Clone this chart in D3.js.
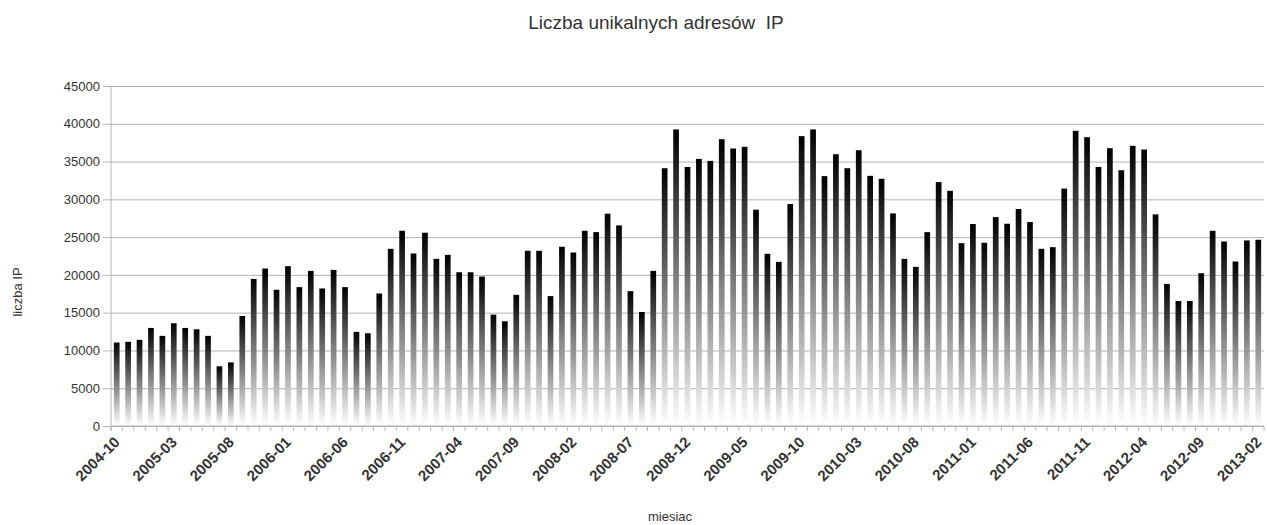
<!DOCTYPE html>
<html>
<head>
<meta charset="utf-8">
<script src="https://cdn.jsdelivr.net/npm/d3@7"></script>
<style>
  html, body { margin: 0; padding: 0; background: #fff; }
  text { font-family: "Liberation Sans", Arial, sans-serif; fill: #333; }
</style>
</head>
<body>
<svg id="chart" width="1267" height="525"></svg>
<script>
const title = "Liczba unikalnych adresów  IP";
const xTitle = "miesiac";
const yTitle = "liczba IP";

// monthly categories 2004-10 .. 2013-02
const fmt = d3.timeFormat("%Y-%m");
const months = d3.timeMonth.range(new Date(2004, 9, 1), new Date(2013, 2, 1)).map(fmt);

const visits = [
  11050, 11140, 11400, 12980, 11930, 13600, 12980, 12800, 11930, 7900,
  8420, 14560, 19470, 20840, 18030, 21150, 18380, 20530, 18200, 20660,
  18380, 12460, 12280, 17540, 23450, 25840, 22830, 25580, 22120, 22650,
  20350, 20350, 19780, 14740, 13860, 17370, 23190, 23190, 17190, 23720,
  22960, 25840, 25660, 28100, 26550, 17850, 15090, 20530, 34120, 39250,
  34290, 35350, 35090, 37960, 36730, 36950, 28630, 22790, 21730, 29380,
  38360, 39250, 33070, 35970, 34120, 36500, 33110, 32720, 28140, 22120,
  21060, 25660, 32280, 31130, 24200, 26730, 24250, 27650, 26770, 28720,
  26990, 23450, 23670, 31420, 39070, 38230, 34290, 36770, 33850, 37080,
  36590, 28010, 18810, 16550, 16550, 20220, 25840, 24420, 21770, 24560,
  24650
];

const yTicks = [0, 5000, 10000, 15000, 20000, 25000, 30000, 35000, 40000, 45000];
const labelEvery = 5;

const svg = d3.select("#chart");
const margin = { top: 86, right: 3, bottom: 100, left: 111 };
const W = 1267, H = 525;

const x = d3.scaleBand()
  .domain(months)
  .range([margin.left, W - margin.right])
  .paddingInner(0.5)
  .paddingOuter(0.25);

const y = d3.scaleLinear()
  .domain([0, 45000])
  .range([H - margin.bottom + 1, margin.top]);

// gradient for the bars
const grad = svg.append("defs").append("linearGradient")
  .attr("id", "barGrad")
  .attr("x1", 0).attr("y1", 0).attr("x2", 0).attr("y2", 1);
grad.append("stop").attr("offset", "0%").attr("stop-color", "#000");
grad.append("stop").attr("offset", "100%").attr("stop-color", "#fff");

// grid + y axis
const yAxis = d3.axisLeft(y)
  .tickValues(yTicks)
  .tickSize(-(W - margin.right - margin.left + 8))
  .tickPadding(4)
  .tickFormat(d3.format("d"));

svg.append("g")
  .attr("transform", `translate(${margin.left - 8},0)`)
  .call(yAxis)
  .call(g => g.select(".domain").remove())
  .call(g => g.selectAll(".tick line").attr("stroke", "#b3b3b3"))
  .call(g => g.selectAll(".tick text")
    .attr("x", -3)
    .style("font-size", "13px")
    .style("fill", "#333"));

// vertical axis line
svg.append("line")
  .attr("x1", margin.left).attr("x2", margin.left)
  .attr("y1", y(45000)).attr("y2", y(0) + 4)
  .attr("stroke", "#b3b3b3");

// bars
svg.append("g")
  .selectAll("rect")
  .data(visits)
  .join("rect")
  .attr("x", (d, i) => x(months[i]))
  .attr("y", d => y(d))
  .attr("width", x.bandwidth())
  .attr("height", d => y(0) - y(d))
  .attr("fill", "url(#barGrad)");

// x axis ticks between categories
const step = x.step();
const bounds = months.map((m, i) => x(m) - step * x.paddingInner() / 2);
bounds.push(x(months[months.length - 1]) + x.bandwidth() + step * x.paddingInner() / 2);

const xg = svg.append("g");
xg.append("line")
  .attr("x1", margin.left).attr("x2", W - margin.right)
  .attr("y1", y(0)).attr("y2", y(0))
  .attr("stroke", "#b3b3b3");
xg.selectAll("line.tk")
  .data(bounds)
  .join("line")
  .attr("class", "tk")
  .attr("x1", d => d).attr("x2", d => d)
  .attr("y1", y(0)).attr("y2", y(0) + 5)
  .attr("stroke", "#b3b3b3");

xg.selectAll("text")
  .data(months.filter((m, i) => i % labelEvery === 0))
  .join("text")
  .attr("transform", d => `translate(${x(d) + x.bandwidth() / 2 + 4},${y(0) + 17}) rotate(-45)`)
  .attr("text-anchor", "end")
  .style("font-size", "15px")
  .style("font-weight", "bold")
  .text(d => d);

// titles
svg.append("text")
  .attr("x", 656).attr("y", 29)
  .attr("text-anchor", "middle")
  .style("font-size", "19px")
  .style("white-space", "pre")
  .text(title);

svg.append("text")
  .attr("x", 670).attr("y", 521)
  .attr("text-anchor", "middle")
  .style("font-size", "13px")
  .text(xTitle);

svg.append("text")
  .attr("transform", "translate(22,292) rotate(-90)")
  .attr("text-anchor", "middle")
  .style("font-size", "13px")
  .text(yTitle);
</script>
</body>
</html>
